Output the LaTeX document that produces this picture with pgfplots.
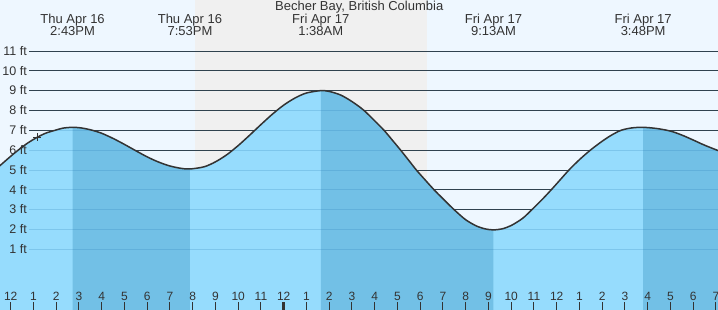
\documentclass[border=0pt]{standalone}
\usepackage{fontspec}
\setmainfont{Liberation Sans}
\usepackage{pgfplots}
\pgfplotsset{compat=1.18}
\usepackage{pgfplotstable}

\definecolor{daybg}{RGB}{238,247,255}
\definecolor{nightbg}{RGB}{240,240,240}
\definecolor{waterlight}{RGB}{150,220,253}
\definecolor{waterdark}{RGB}{114,192,230}
\definecolor{txt}{RGB}{51,51,51}
\definecolor{gridblue}{RGB}{40,120,180}

\pgfplotstableread{
t h
11.40 5.09
12.00 5.69
12.33 6.00
12.75 6.36
13.17 6.65
13.55 6.86
13.95 7.00
14.30 7.11
14.72 7.15
15.10 7.12
15.56 7.01
16.00 6.85
16.50 6.59
17.00 6.29
17.39 6.04
18.00 5.66
18.50 5.40
19.00 5.20
19.50 5.08
19.88 5.05
20.50 5.16
21.00 5.41
21.50 5.77
22.00 6.23
22.50 6.75
23.00 7.29
23.50 7.81
24.00 8.27
24.50 8.63
25.00 8.88
25.63 9.00
26.00 8.96
26.50 8.78
27.00 8.45
27.50 8.03
28.00 7.48
28.41 7.00
28.80 6.47
29.14 6.00
29.50 5.48
29.83 5.00
30.20 4.52
30.61 4.00
31.00 3.55
31.49 3.00
32.00 2.49
32.50 2.16
32.90 2.02
33.22 1.98
33.60 2.03
34.00 2.20
34.50 2.56
34.91 3.00
35.35 3.50
35.76 4.00
36.15 4.50
36.54 5.00
37.00 5.52
37.48 6.00
38.00 6.45
38.40 6.75
38.83 7.00
39.30 7.12
39.80 7.15
40.40 7.09
41.00 6.96
41.50 6.76
42.00 6.51
42.50 6.25
43.20 5.93
}\tide

\begin{document}
\begin{tikzpicture}
\begin{axis}[
  name=ax,
  scale only axis,
  width=718pt, height=310pt,
  xmin=11.53, xmax=43.09,
  ymin=-2.06, ymax=13.57,
  axis line style={draw=none},
  axis background/.style={fill=daybg},
  axis on top,
  ytick=\empty,
  xtick={12,...,43},
  xticklabels={12,1,2,3,4,5,6,7,8,9,10,11,12,1,2,3,4,5,6,7,8,9,10,11,12,1,2,3,4,5,6,7},
  xtick pos=left,
  tick align=inside,
  major tick length=8pt,
  tick style={color=txt, line width=1pt},
  xticklabel style={anchor=base, yshift=9.5pt, font=\fontsize{12}{14}\selectfont, text=txt, inner sep=0pt},
  extra x ticks={24},
  extra x tick labels={},
  extra x tick style={tick style={line width=3pt, color=txt}},
]
\fill[nightbg] (axis cs:20.10,-3) rectangle (axis cs:30.30,14);
\pgfplotsinvokeforeach{1,...,11}{\draw[txt, line width=0.85pt] (axis cs:12.82,#1) -- (axis cs:43.3,#1);}

\addplot[draw=none, fill=waterlight, smooth] table[x=t,y=h]{\tide} -- (axis cs:43.3,-3) -- (axis cs:11.3,-3) -- cycle;
\addplot[draw=none, fill=waterdark, smooth, restrict x to domain=14.715:19.885] table[x=t,y=h]{\tide} -- (axis cs:19.88,-3) -- (axis cs:14.72,-3) -- cycle;
\addplot[draw=none, fill=waterdark, smooth, restrict x to domain=25.625:33.225] table[x=t,y=h]{\tide} -- (axis cs:33.22,-3) -- (axis cs:25.63,-3) -- cycle;
\addplot[draw=none, fill=waterdark, smooth, restrict x to domain=39.795:43.5] table[x=t,y=h]{\tide} -- (axis cs:43.3,-3) -- (axis cs:39.80,-3) -- cycle;

\pgfplotsinvokeforeach{1,...,11}{\draw[gridblue, opacity=0.22, line width=0.9pt] (axis cs:12.82,#1) -- (axis cs:43.3,#1);}

\addplot[txt, line width=1.5pt, smooth] table[x=t,y=h]{\tide};
\addplot[only marks, mark=+, mark size=4pt, txt, line width=0.9pt] coordinates {(13.17,6.65)};

\pgfplotsinvokeforeach{1,...,11}{\node[anchor=base east, inner sep=0pt, text=txt, font=\fontsize{12.5}{14}\selectfont, yshift=-4.3pt] at (axis cs:12.716,#1) {#1 ft};}

\begin{scope}[every node/.style={anchor=base, inner sep=0pt, text=txt, font=\fontsize{13}{15}\selectfont}]
\node at (axis cs:27.32,13.02) {Becher Bay, British Columbia};
\node at (axis cs:14.72,12.36) {Thu Apr 16};
\node at (axis cs:14.72,11.755) {2:43PM};
\node at (axis cs:19.88,12.36) {Thu Apr 16};
\node at (axis cs:19.88,11.755) {7:53PM};
\node at (axis cs:25.63,12.36) {Fri Apr 17};
\node at (axis cs:25.63,11.755) {1:38AM};
\node at (axis cs:33.22,12.36) {Fri Apr 17};
\node at (axis cs:33.22,11.755) {9:13AM};
\node at (axis cs:39.80,12.36) {Fri Apr 17};
\node at (axis cs:39.80,11.755) {3:48PM};
\end{scope}
\end{axis}
\pgfresetboundingbox
\path (ax.south west) rectangle (ax.north east);
\end{tikzpicture}
\end{document}
